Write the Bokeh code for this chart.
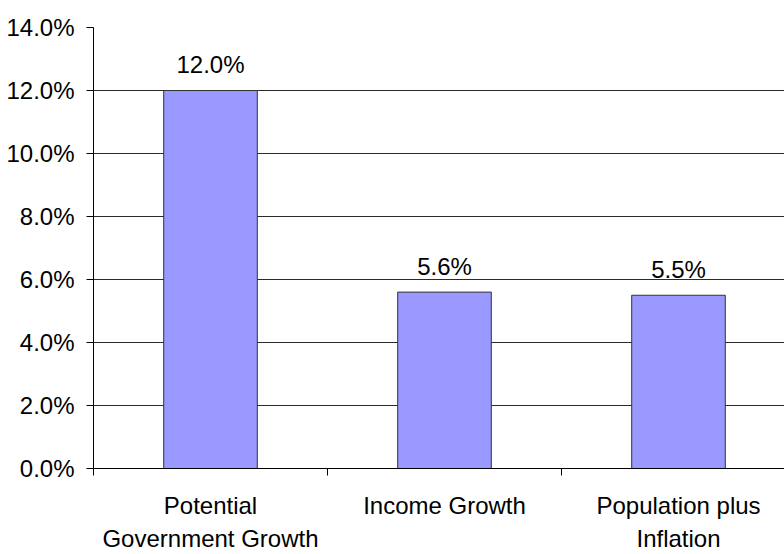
from bokeh.plotting import figure
from bokeh.models import Range1d, FixedTicker, PrintfTickFormatter, ColumnDataSource
from bokeh.embed import file_html
from bokeh.resources import INLINE
from bokeh.core.properties import value

# ---- data ----
categories = ["Potential\nGovernment Growth", "Income Growth", "Population plus\nInflation"]
values = [12.0, 5.6, 5.5]
value_labels = ["12.0%", "5.6%", "5.5%"]
y_ticks = [0, 2, 4, 6, 8, 10, 12, 14]

FONT = "Liberation Sans"
FSIZE = "24px"
positions = [i + 0.5 for i in range(len(categories))]
src = ColumnDataSource(dict(x=positions, top=values, label=value_labels))

p = figure(frame_width=691, frame_height=441,
           min_border_left=93, min_border_right=0, min_border_top=27, min_border_bottom=86,
           x_range=Range1d(0, 691 / 234), y_range=Range1d(0, 14),
           output_backend="svg", toolbar_location=None, tools="")

p.vbar(x="x", top="top", width=0.4, bottom=0, source=src,
       fill_color="#9999FF", line_color="#333333", line_width=1)

p.text(x="x", y="top", text="label", source=src, text_align="center",
       text_baseline="alphabetic", y_offset=-26, text_font=value(FONT),
       text_font_size=FSIZE, text_color="black")

p.outline_line_color = None
p.xgrid.grid_line_color = None
p.ygrid.grid_line_color = "#2a2a2a"
p.ygrid.grid_line_width = 1
p.ygrid.ticker = FixedTicker(ticks=y_ticks)

ya = p.yaxis[0]
ya.ticker = FixedTicker(ticks=y_ticks)
ya.formatter = PrintfTickFormatter(format="%.1f%%")
ya.major_label_text_font = FONT
ya.major_label_text_font_size = FSIZE
ya.major_label_text_color = "black"
ya.major_tick_out = 7
ya.major_tick_in = 0
ya.minor_tick_line_color = None
ya.major_label_standoff = 12
ya.axis_line_color = "black"
ya.major_tick_line_color = "black"

xa = p.xaxis[0]
xa.ticker = FixedTicker(ticks=positions, minor_ticks=[0, 1, 2, 3])
xa.major_label_overrides = {pos: c for pos, c in zip(positions, categories)}
xa.major_label_text_font = FONT
xa.major_label_text_font_size = FSIZE
xa.major_label_text_color = "black"
xa.major_label_text_line_height = 1.25
xa.major_tick_line_color = None
xa.major_tick_out = 0
xa.major_tick_in = 0
xa.minor_tick_out = 7
xa.minor_tick_in = 0
xa.minor_tick_line_color = "black"
xa.major_label_standoff = 16
xa.axis_line_color = "black"

open("out.html", "w").write(file_html(p, INLINE))
